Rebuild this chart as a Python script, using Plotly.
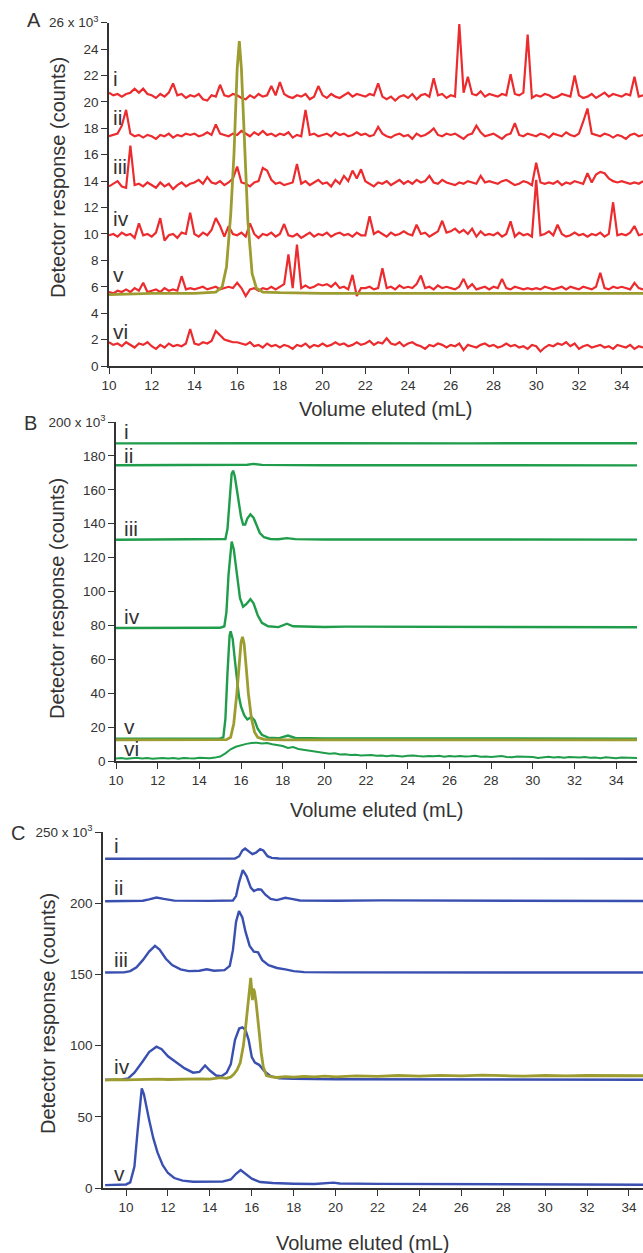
"""
Three stacked size-exclusion chromatograms (panels A, B, C): detector
response vs. eluted volume, with offset traces i-vi and an olive reference
peak overlaid on one trace in each panel.
"""
import plotly.graph_objects as go

RED = "#EC2B2E"
OLIVE = "#9D9C30"
GREEN = "#1F9D4A"
BLUE = "#3A50B0"
AXIS = "#333333"
FONT = "Liberation Sans, Arial, sans-serif"

# ---------------------------------------------------------------- panel A
# red traces are read on a 0.2 mL grid from 10 to 35 mL (x 10^3 counts)
VOL_A = [round(10 + 0.2 * i, 1) for i in range(126)]

A_I = [
    20.7, 20.5, 20.6, 20.4, 20.6, 20.7, 21.0, 20.7, 21.0, 20.6,
    20.5, 20.3, 20.6, 20.4, 20.7, 21.4, 20.5, 20.6, 20.3, 20.5,
    20.4, 20.6, 20.2, 20.1, 20.5, 20.4, 21.3, 20.5, 20.4, 20.6,
    20.5, 20.3, 20.2, 20.5, 20.3, 20.6, 20.4, 20.5, 21.2, 20.5,
    21.5, 20.6, 20.4, 20.3, 20.5, 20.4, 20.6, 20.2, 20.4, 21.2,
    20.5, 20.3, 20.6, 20.4, 20.3, 20.5, 20.7, 20.4, 20.6, 20.5,
    20.4, 20.6, 20.5, 21.4, 20.4, 20.2, 20.4, 20.1, 20.4, 20.5,
    20.3, 20.6, 20.2, 20.5, 20.6, 20.4, 21.8, 20.5, 20.6, 20.3,
    20.5, 20.4, 25.9, 20.7, 21.9, 20.6, 20.5, 20.8, 20.4, 20.6,
    20.5, 20.4, 20.6, 20.5, 22.1, 20.6, 20.5, 20.7, 25.1, 20.3,
    20.5, 20.4, 20.6, 20.5, 20.3, 20.4, 20.6, 20.5, 20.4, 22.0,
    20.5, 20.3, 20.4, 20.6, 20.3, 20.5, 20.7, 20.4, 20.6, 20.5,
    20.4, 20.6, 20.5, 21.9, 20.4, 20.5,
]
A_II = [
    17.4, 17.5, 17.6, 18.2, 19.4, 17.6, 17.4, 17.5, 17.3, 17.5,
    17.4, 17.2, 17.5, 17.4, 17.6, 17.3, 17.5, 17.4, 17.6, 17.5,
    17.6, 17.4, 17.5, 17.7, 17.5, 18.3, 17.6, 17.5, 17.4, 17.6,
    17.5, 17.8, 17.6, 17.4, 17.7, 17.5, 17.8, 17.5, 17.6, 17.4,
    17.6, 17.5, 17.7, 17.3, 17.5, 17.4, 19.4, 17.5, 17.6, 17.4,
    17.5, 17.6, 17.4, 17.7, 17.5, 17.6, 17.4, 17.5, 17.7, 17.5,
    17.6, 17.4, 17.5, 18.1, 17.6, 17.4, 17.3, 17.5, 17.6, 17.4,
    17.5, 17.2, 17.6, 17.4, 17.5, 17.7, 18.0, 17.5, 17.4, 17.6,
    17.5, 17.6, 17.4, 17.2, 17.5, 17.6, 18.2, 17.7, 17.4, 17.5,
    17.6, 17.4, 17.2, 17.5, 17.6, 18.4, 17.5, 17.4, 17.6, 17.5,
    17.4, 17.6, 17.5, 17.3, 17.6, 17.5, 17.4, 17.7, 17.5, 17.4,
    17.6, 18.5, 19.5, 17.6, 17.5, 17.4, 17.6, 17.5, 17.3, 17.5,
    17.4, 17.2, 17.5, 17.6, 17.4, 17.5,
]
A_III = [
    13.6, 13.8, 14.0, 13.6, 13.5, 16.7, 13.7, 13.8, 13.6, 13.9,
    13.7, 13.5, 13.9, 13.6, 13.8, 13.4, 13.7, 13.9, 13.6, 13.8,
    13.9, 14.1, 13.8, 14.3, 13.9, 13.8, 14.0, 13.7, 13.9, 14.2,
    15.1, 13.9, 13.8, 13.6, 13.9, 14.0, 15.0, 14.8, 14.1, 13.8,
    13.9, 13.7, 13.8, 13.9, 15.3, 13.8, 14.0, 13.7, 13.9, 14.1,
    13.8, 13.9, 13.6, 14.1, 13.8, 14.4, 14.0, 14.8, 14.2, 14.9,
    14.0, 13.8, 13.6, 13.9, 13.8, 14.0, 13.7, 13.9, 14.1, 13.8,
    14.0, 13.8, 14.1, 13.9, 14.0, 14.4, 13.9, 13.8, 14.1, 13.9,
    13.8, 13.7, 13.9, 13.8, 14.0, 13.9, 13.8, 14.4, 13.9, 14.0,
    13.9, 13.8, 14.0, 14.1, 13.9, 13.7, 13.8, 14.0, 13.9, 13.7,
    15.4, 13.9, 13.8, 13.9, 13.8, 14.0, 13.7, 13.9, 13.8, 14.0,
    13.9, 13.8, 14.6, 13.9, 14.5, 14.7, 14.6, 14.2, 14.0, 13.9,
    14.0, 13.9, 13.8, 13.9, 13.8, 14.0,
]
A_IV = [
    9.9, 10.0, 9.8, 10.1, 9.9, 10.0, 9.7, 10.8, 9.9, 10.0,
    9.8, 10.1, 11.2, 9.5, 9.9, 10.0, 9.7, 10.1, 10.0, 11.6,
    10.0, 9.8, 10.1, 9.9, 10.3, 11.2, 10.6, 9.8, 10.6, 10.0,
    9.9, 10.1, 9.8, 10.8, 10.0, 9.7, 10.0, 9.9, 10.1, 9.8,
    10.0, 10.75, 9.9, 9.8, 10.0, 9.7, 9.9, 10.1, 9.8, 10.0,
    9.9, 10.1, 9.8, 10.0, 10.1, 9.9, 10.0, 9.8, 10.1, 9.9,
    9.9, 11.35, 10.0, 10.2, 10.0, 9.8, 10.1, 9.9, 10.0, 10.2,
    10.0, 9.9, 10.7, 10.0, 10.1, 9.8, 10.0, 10.2, 11.0, 10.1,
    10.2, 10.4, 10.1, 10.3, 10.0, 10.4, 9.8, 10.2, 9.9, 10.0,
    9.9, 10.1, 9.8, 10.0, 10.95, 9.8, 10.1, 9.9, 10.0, 9.8,
    14.1, 9.9, 10.0, 10.2, 9.9, 10.7, 10.0, 9.8, 9.9, 10.1,
    9.9, 10.0, 9.8, 10.0, 9.9, 10.1, 9.8, 10.0, 12.4, 9.9,
    10.0, 9.9, 10.1, 10.6, 9.9, 10.0,
]
A_V = [
    5.6, 5.5, 5.7, 5.6, 5.8, 5.6, 5.9, 5.7, 6.3, 5.6,
    5.7, 5.8, 5.6, 5.9, 5.7, 5.8, 5.7, 6.8, 5.8, 5.9,
    5.8, 5.9, 6.0, 5.8, 5.9, 6.0, 5.8, 5.9, 6.0, 5.9,
    6.3, 5.9, 5.3, 5.8, 5.9, 5.7, 5.9, 5.8, 6.0, 5.8,
    6.0, 6.2, 8.45, 5.9, 9.2, 5.9, 6.1, 5.9, 6.0, 6.2,
    6.1, 6.2, 6.0, 6.3, 5.9, 6.0, 5.8, 6.9, 5.3, 5.9,
    5.9, 6.0, 5.8, 5.9, 7.4, 5.9, 6.0, 5.8, 6.1, 5.9,
    6.0, 5.9, 6.2, 6.85, 5.9, 6.0, 5.8, 6.1, 5.9, 6.0,
    5.9, 5.8, 6.0, 6.6, 5.9, 6.2, 5.8, 5.9, 6.0, 5.8,
    6.0, 5.9, 6.6, 5.9, 5.8, 6.0, 5.9, 5.8, 5.9, 5.8,
    5.9, 5.8, 6.0, 5.9, 5.8, 5.9, 6.0, 5.8, 6.0, 5.9,
    5.8, 6.0, 5.9, 5.8, 6.0, 7.05, 5.9, 5.8, 6.0, 5.9,
    6.0, 5.9, 5.8, 6.3, 5.9, 5.8,
]
A_VI = [
    1.8, 1.6, 1.7, 1.5, 1.8, 1.6, 1.4, 1.7, 1.6, 1.8,
    1.5, 1.3, 1.6, 1.4, 1.7, 1.5, 1.6, 1.5, 1.7, 2.8,
    1.7, 1.6, 1.8, 1.7, 1.9, 2.65, 2.3, 2.0, 1.9, 1.8,
    1.8, 1.7, 1.6, 1.8, 1.5, 1.6, 1.4, 1.7, 1.5, 1.6,
    1.4, 1.6, 1.5, 1.3, 1.6, 1.5, 1.7, 1.4, 1.6, 1.5,
    1.7, 1.5, 1.6, 1.8, 1.6, 1.7, 1.5, 1.6, 1.8, 1.6,
    1.7, 1.9, 1.6, 1.8, 1.7, 2.1, 1.7, 1.6, 1.8, 1.5,
    1.7, 1.8, 1.6, 1.5, 1.3, 1.6, 1.5, 1.7, 1.6, 1.4,
    1.6, 1.5, 1.7, 1.2, 1.6, 1.5, 1.4, 1.6, 1.7, 1.5,
    1.6, 1.4, 1.5, 1.7, 1.5, 1.6, 1.4, 1.5, 1.3, 1.6,
    1.5, 1.1, 1.4, 1.6, 1.5, 1.7, 1.6, 1.8, 1.5, 1.7,
    1.3, 1.5, 1.6, 1.4, 1.5, 1.6, 1.4, 1.5, 1.3, 1.6,
    1.5, 1.4, 1.6, 1.3, 1.5, 1.4,
]
A_REF_X = [10, 12, 14, 15.0, 15.3, 15.5, 15.7, 15.85, 16.0, 16.1, 16.2,
           16.35, 16.5, 16.7, 16.9, 17.2, 18, 20, 25, 30, 35]
A_REF_Y = [5.4, 5.5, 5.5, 5.6, 6.0, 7.5, 11.5, 16.0, 22.5, 24.6, 22.5,
           16.5, 11.0, 7.0, 5.9, 5.6, 5.55, 5.5, 5.5, 5.5, 5.5]

# ---------------------------------------------------------------- panel B
B_I_X = [10, 16, 20, 27, 31, 35]
B_I_Y = [187.4, 187.6, 187.5, 187.4, 187.3, 187.5]
B_II_X = [10, 15, 16.3, 16.6, 17.0, 20, 35]
B_II_Y = [174.5, 174.5, 174.8, 175.3, 174.7, 174.5, 174.4]
B_III_X = [10, 15.0, 15.25, 15.35, 15.45, 15.55, 15.62, 15.7, 15.8, 15.9,
           16.0, 16.1, 16.2, 16.3, 16.45, 16.6, 16.75, 16.9, 17.1, 17.4,
           17.8, 18.2, 18.6, 20, 35]
B_III_Y = [130.5, 130.6, 131, 137, 155, 169.5, 171.3, 168, 160, 151,
           144, 139.5, 139.5, 143, 145.5, 143.5, 138.5, 134.5, 132, 131,
           130.8, 131.5, 130.9, 130.7, 130.6]
B_IV_X = [10, 15.0, 15.2, 15.3, 15.4, 15.5, 15.55, 15.65, 15.8, 15.95,
          16.1, 16.25, 16.45, 16.6, 16.8, 17.0, 17.3, 17.8, 18.2, 18.5,
          20, 21, 35]
B_IV_Y = [78.5, 78.6, 79.5, 88, 110, 127, 129.5, 125, 110, 96,
          91, 92.5, 95.5, 93, 86, 81.5, 79.5, 79, 81, 79.5,
          79.1, 79.3, 78.9]
B_V_X = [10, 15.0, 15.15, 15.25, 15.35, 15.45, 15.5, 15.6, 15.7, 15.8,
         15.9, 16.0, 16.15, 16.3, 16.5, 16.65, 16.8, 17.0, 17.3, 17.8,
         18.25, 18.6, 20, 35]
B_V_Y = [13.2, 13.3, 14, 25, 52, 74, 76.5, 72, 60, 48,
         38, 32, 27, 24.5, 26, 24, 19, 15.5, 13.8, 13.4,
         15, 13.6, 13.3, 13.2]
B_REF_X = [10, 15.3, 15.5, 15.65, 15.8, 15.9, 16.0, 16.07, 16.15, 16.25,
           16.35, 16.5, 16.65, 16.8, 17.1, 18, 35]
B_REF_Y = [12.5, 12.6, 14, 22, 40, 55, 70, 73.3, 69, 55,
           40, 25, 17, 14, 12.8, 12.5, 12.5]
# trace vi is read on a 0.25 mL grid
VOL_B6 = [10 + 0.25 * i for i in range(101)]
B_VI = [
    1.5, 1.8, 1.4, 1.6, 1.9, 1.5, 1.7, 1.3, 1.6, 1.8,
    1.5, 1.7, 1.4, 1.8, 1.6, 1.5, 1.9, 1.7, 1.6, 2.0,
    2.6, 4.5, 6.9, 8.4, 9.3, 10.1, 10.6, 10.8, 10.3, 10.6,
    9.9, 9.4, 8.8, 7.7, 8.2, 7.1, 6.6, 6.0, 5.7, 5.0,
    4.7, 4.3, 4.6, 3.8, 4.0, 3.5, 3.7, 3.2, 3.4, 3.6,
    3.1, 3.3, 2.8, 3.2, 3.0, 2.7, 3.1, 3.3, 2.9, 2.6,
    3.0, 2.8, 3.1, 2.5, 2.9, 2.7, 3.0, 2.6, 2.8, 3.1,
    2.5, 2.7, 2.3, 2.6, 2.9, 2.4, 2.2, 2.6, 2.5, 2.1,
    2.4, 1.8, 2.2, 2.5, 2.1, 2.3, 1.9, 2.4, 2.2, 2.0,
    2.3, 1.9, 2.1, 1.7, 2.2, 1.8, 1.6, 2.0, 1.9, 1.5,
    1.8,
]

# ---------------------------------------------------------------- panel C
C_I_X = [9, 10, 12, 15.2, 15.4, 15.55, 15.68, 15.85, 16.03, 16.2, 16.4,
         16.55, 16.75, 16.95, 17.3, 35]
C_I_Y = [231.2, 231.2, 231.6, 231.4, 233, 237, 238.4, 236.5, 234.4, 235.5,
         238, 237, 233, 231.8, 231.4, 231.2]
C_II_X = [9, 10.8, 11.1, 11.45, 11.8, 12.3, 14, 15.1, 15.25, 15.4, 15.57,
          15.75, 15.95, 16.1, 16.3, 16.45, 16.65, 16.9, 17.2, 17.6, 17.9,
          18.3, 20, 22.2, 35]
C_II_Y = [201.4, 201.7, 202.7, 204, 203, 201.8, 201.6, 201.9, 205, 215, 223.2,
          219, 211, 208.5, 209.8, 209.5, 206, 203, 202.2, 203.8, 203,
          201.9, 201.7, 202.0, 201.5]
C_III_X = [9, 9.9, 10.2, 10.5, 10.8, 11.1, 11.38, 11.6, 11.9, 12.2, 12.6,
           13.0, 13.5, 13.85, 14.2, 14.7, 14.95, 15.1, 15.25, 15.39, 15.55,
           15.7, 15.9, 16.1, 16.3, 16.5, 16.8, 17.2, 17.6, 18.0, 18.5, 20, 35]
C_III_Y = [151.3, 151.4, 152.3, 155, 160, 166, 170.1, 167.5, 161, 156.5, 153.5,
           152.3, 152.6, 153.6, 152.6, 153, 156, 167, 187, 194.4, 190,
           180, 170, 166, 165.5, 160, 156.5, 154.5, 153.5, 152.3, 151.6, 151.4,
           151.3]
C_IV_X = [9, 9.8, 10.1, 10.4, 10.8, 11.1, 11.45, 11.7, 12.0, 12.4, 12.8,
          13.2, 13.5, 13.77, 14.0, 14.3, 14.55, 14.8, 15.0, 15.2, 15.4,
          15.55, 15.7, 15.85, 16.0, 16.15, 16.35, 16.6, 16.9, 17.3, 18, 20, 35]
C_IV_Y = [76.0, 76.2, 77, 81, 89, 95.5, 99.2, 97.5, 92.5, 88, 84,
          81, 81.5, 86, 82.5, 79, 78.5, 81, 87, 104, 112,
          112.8, 111, 104, 92, 88, 86.5, 82, 78.5, 77, 76.6, 76.4, 76.0]
C_REF_X = [9.0, 9.5, 10, 10.5, 11, 11.5, 12, 12.5, 13, 13.5, 14, 14.5, 14.8,
           15.0, 15.15, 15.3, 15.45, 15.6, 15.72, 15.82, 15.9, 15.95, 16.0,
           16.03, 16.08, 16.13, 16.2, 16.28, 16.36, 16.45, 16.55, 16.7, 16.9,
           17.2, 17.6, 18, 18.5, 19, 19.5, 20, 21, 22, 23, 24, 25, 26, 27, 28,
           29, 30, 31, 32, 33, 34, 35]
C_REF_Y = [75.8, 76.2, 76.0, 76.3, 76.1, 76.4, 76.2, 76.5, 76.3, 76.6, 76.4,
           77.5, 77.0, 78, 80, 83, 88, 100, 115, 130, 143, 147.6, 138,
           132, 140, 138, 131, 121, 108.6, 95, 85, 79, 78.2,
           77.6, 78.2, 77.8, 78.4, 78.0, 78.6, 78.1, 78.8, 78.4, 79.0, 78.6,
           79.1, 78.7, 79.2, 78.9, 78.5, 79.0, 78.7, 79.0, 78.8, 79.1, 78.8]
C_V_X = [9, 9.5, 10.0, 10.2, 10.4, 10.55, 10.68, 10.75, 10.85, 10.95, 11.1,
         11.3, 11.5, 11.75, 12.0, 12.3, 12.7, 13.2, 14, 14.6, 15.0, 15.25,
         15.47, 15.7, 16.0, 16.4, 17, 18, 19, 19.9, 20.2, 22, 25, 30, 35]
C_V_Y = [2.0, 2.3, 2.5, 4, 15, 40, 63, 70, 66, 58, 48,
         35, 25, 16, 10.5, 7, 5.2, 4.4, 4.2, 4.5, 6, 10,
         12.6, 10, 6.5, 4.2, 3.5, 3.0, 2.8, 3.8, 3.2, 2.9, 2.7, 2.5, 2.3]

# ---------------------------------------------------------------- labels
ROMAN = ["i", "ii", "iii", "iv", "v", "vi"]
A_LABEL_Y = [21.8, 18.8, 15.1, 11.2, 6.9, 2.6]
B_LABEL_Y = [194.3, 180.0, 137.3, 85.1, 20.2, 7.5]
C_LABEL_Y = [240.8, 211.0, 160.5, 85.2, 10.3]

X_TICKS = list(range(10, 35, 2))
A_YTICKS = list(range(0, 27, 2))
B_YTICKS = list(range(0, 201, 20))
C_YTICKS = list(range(0, 251, 50))

W, H = 643, 1253


def px_x(p):
    return p / W


def px_y(p):
    return 1 - p / H


def line(x, y, color, xa, ya, width=2.0):
    return go.Scatter(x=x, y=y, mode="lines", xaxis=xa, yaxis=ya,
                      line=dict(color=color, width=width), showlegend=False,
                      hoverinfo="skip")


def ytext(vals):
    return [str(v) for v in vals[:-1]] + [f"{vals[-1]} x 10<sup>3</sup>"]


def paper_text(text, x, y, size, angle=0):
    return dict(text=text, x=px_x(x), y=px_y(y), xref="paper", yref="paper",
                xanchor="center", yanchor="middle", textangle=angle,
                showarrow=False, font=dict(family=FONT, size=size, color=AXIS))


def main():
    for trace in (A_I, A_II, A_III, A_IV, A_V, A_VI):
        assert len(trace) == len(VOL_A)
    assert len(B_VI) == len(VOL_B6)

    fig = go.Figure()
    for ys in (A_I, A_II, A_III, A_IV, A_V, A_VI):
        fig.add_trace(line(VOL_A, ys, RED, "x", "y", 2.2))
    fig.add_trace(line(A_REF_X, A_REF_Y, OLIVE, "x", "y", 2.8))

    for xs, ys in ((B_I_X, B_I_Y), (B_II_X, B_II_Y), (B_III_X, B_III_Y),
                   (B_IV_X, B_IV_Y), (B_V_X, B_V_Y)):
        fig.add_trace(line(xs, ys, GREEN, "x2", "y2", 2.4))
    fig.add_trace(line(VOL_B6, B_VI, GREEN, "x2", "y2", 2.0))
    fig.add_trace(line(B_REF_X, B_REF_Y, OLIVE, "x2", "y2", 2.8))

    for xs, ys in ((C_I_X, C_I_Y), (C_II_X, C_II_Y), (C_III_X, C_III_Y),
                   (C_IV_X, C_IV_Y), (C_V_X, C_V_Y)):
        fig.add_trace(line(xs, ys, BLUE, "x3", "y3", 2.4))
    fig.add_trace(line(C_REF_X, C_REF_Y, OLIVE, "x3", "y3", 2.8))

    tick_font = dict(family=FONT, size=13.5, color=AXIS)
    common = dict(showgrid=False, zeroline=False, showline=True,
                  linecolor=AXIS, linewidth=1.6, ticks="outside",
                  ticklen=6, tickwidth=1.4, tickcolor=AXIS,
                  tickfont=tick_font, automargin=False, fixedrange=True)

    annotations = []
    for letter, x, y in (("A", 34, 20), ("B", 31, 423), ("C", 18, 833)):
        annotations.append(paper_text(letter, x, y, 20))
    for x, y in ((385, 409), (376, 810), (362, 1243)):
        annotations.append(paper_text("Volume eluted (mL)", x, y, 20))
    for x, y in ((58, 178), (57, 599), (48, 1014)):
        annotations.append(paper_text("Detector response (counts)", x, y, 20, -90))
    for xa, ya, x0, ys in (("x", "y", 10.1, A_LABEL_Y),
                           ("x2", "y2", 10.27, B_LABEL_Y),
                           ("x3", "y3", 9.32, C_LABEL_Y)):
        for name, yv in zip(ROMAN, ys):
            annotations.append(dict(text=name, x=x0, y=yv, xref=xa, yref=ya,
                                    xanchor="left", yanchor="middle",
                                    showarrow=False,
                                    font=dict(family=FONT, size=21, color=AXIS)))

    fig.update_layout(
        template="none",
        width=W, height=H,
        margin=dict(l=0, r=0, t=0, b=0, pad=0),
        paper_bgcolor="white", plot_bgcolor="white",
        showlegend=False,
        annotations=annotations,
        xaxis=dict(domain=[px_x(109), 1.0], range=[10, 35], anchor="y",
                   tickvals=X_TICKS, **common),
        yaxis=dict(domain=[px_y(366), px_y(22.7)], range=[0, 26], anchor="x",
                   tickvals=A_YTICKS, ticktext=ytext(A_YTICKS), **common),
        xaxis2=dict(domain=[px_x(116), px_x(637)], range=[10, 35], anchor="y2",
                    tickvals=X_TICKS, **common),
        yaxis2=dict(domain=[px_y(761), px_y(422)], range=[0, 200], anchor="x2",
                    tickvals=B_YTICKS, ticktext=ytext(B_YTICKS), **common),
        xaxis3=dict(domain=[px_x(103), 1.0], range=[8.9, 34.67], anchor="y3",
                    tickvals=X_TICKS, **common),
        yaxis3=dict(domain=[px_y(1188), px_y(832)], range=[0, 250], anchor="x3",
                    tickvals=C_YTICKS, ticktext=ytext(C_YTICKS), **common),
    )

    # the page's default body margin would push the figure 8 px off; drop it
    fig.write_html("out.html", config=dict(displayModeBar=False),
                   post_script="document.body.style.margin = '0';")


if __name__ == "__main__":
    main()
